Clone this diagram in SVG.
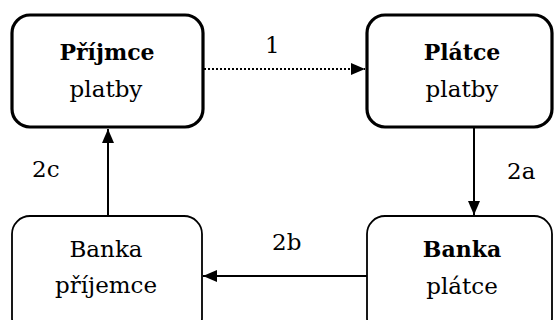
<svg xmlns="http://www.w3.org/2000/svg" width="555" height="320" viewBox="0 0 555 320">
<style>
text{font-family:'DejaVu Serif',serif;font-size:23px;fill:#000}
.t{text-anchor:middle}
.b{font-weight:bold;font-size:22px}
.thick{fill:#fff;stroke:#000;stroke-width:3.2}
.thin{fill:#fff;stroke:#000;stroke-width:1.8}
.c{stroke:#000;stroke-width:2;fill:none}
</style>
<defs>
<marker id="ah" viewBox="0 0 14 12" refX="14" refY="6" markerWidth="14" markerHeight="12" markerUnits="userSpaceOnUse" orient="auto">
<path d="M0,0 L14,6 L0,12 Z" fill="#000"/>
</marker>
</defs>
<g id="connectors">
<line class="c" x1="204" y1="69" x2="365" y2="69" stroke-width="1.6" stroke-dasharray="2,2" marker-end="url(#ah)"/>
<line class="c" x1="474" y1="128" x2="474" y2="215" marker-end="url(#ah)"/>
<line class="c" x1="367" y1="276" x2="203" y2="276" marker-end="url(#ah)"/>
<line class="c" x1="108" y1="216" x2="108" y2="129" marker-end="url(#ah)"/>
<text x="265" y="53">1</text>
<text x="507" y="179">2a</text>
<text x="272" y="250">2b</text>
<text x="32" y="177">2c</text>
</g>
<g id="prijemce-platby">
<rect class="thick" x="12" y="15" width="191" height="112" rx="18"/>
<text class="t b" x="107" y="60">Příjmce</text>
<text class="t" x="106" y="97">platby</text>
</g>
<g id="platce-platby">
<rect class="thick" x="367" y="15" width="185" height="112" rx="18"/>
<text class="t b" x="462" y="60">Plátce</text>
<text class="t" x="462" y="97">platby</text>
</g>
<g id="banka-prijemce">
<rect class="thin" x="12" y="216" width="190" height="120" rx="18"/>
<text class="t" x="106" y="257">Banka</text>
<text class="t" x="106" y="293">příjemce</text>
</g>
<g id="banka-platce">
<rect class="thin" x="367" y="216" width="185" height="120" rx="18"/>
<text class="t b" x="462" y="257">Banka</text>
<text class="t" x="462" y="294">plátce</text>
</g>
</svg>
